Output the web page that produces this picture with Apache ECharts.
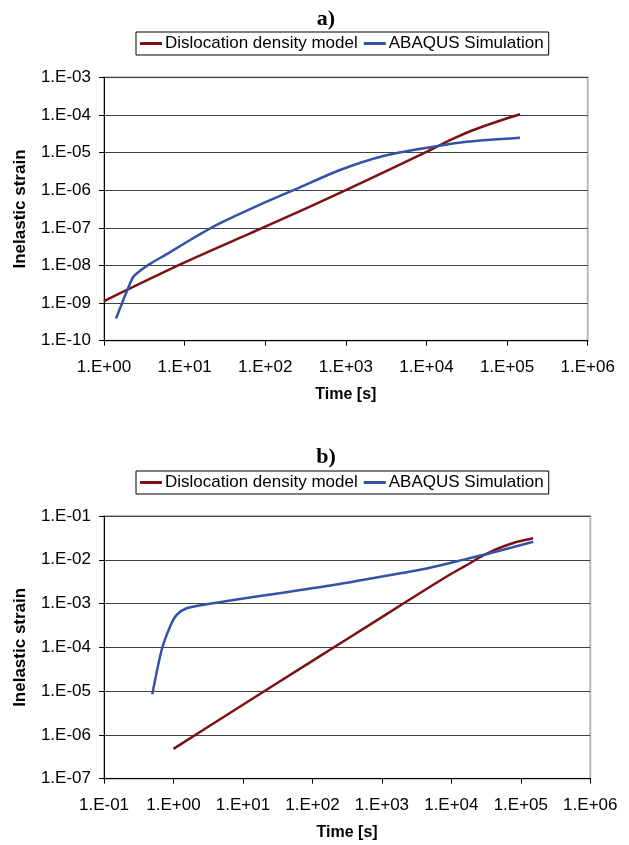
<!DOCTYPE html>
<html>
<head>
<meta charset="utf-8">
<script src="https://cdn.jsdelivr.net/npm/echarts@6/dist/echarts.min.js"></script>
<style>
html,body{margin:0;padding:0;background:#fff;}
#c{width:629px;height:845px;}
</style>
</head>
<body>
<div id="c"></div>
<script>
// ---- Data ----
var seriesNames = ['Dislocation density model', 'ABAQUS Simulation'];

// Chart a)
var aModelTime   = [1, 10, 100, 1000, 10000, 19600, 38200, 74500, 145000];
var aModelStrain = [1.13e-9, 1.2e-8, 1.07e-7, 1.0e-6, 1.05e-5, 2.15e-5, 3.98e-5, 6.6e-5, 1.04e-4];
var aSimTime     = [1.41, 1.91, 2.31, 2.8, 3.72, 6.0, 9.64, 25, 104, 270, 847, 2924, 12190, 31600, 145000];
var aSimStrain   = [3.9e-10, 2.0e-9, 5.0e-9, 7.2e-9, 1.1e-8, 2.0e-8, 3.7e-8, 1.19e-7, 4.94e-7, 1.19e-6, 3.44e-6, 8.1e-6, 1.43e-5, 1.94e-5, 2.48e-5];

// Chart b)
var bModelTime   = [1, 10, 100, 1000, 5000, 10000, 18000, 25000, 36000, 50000, 80000, 115000, 150000];
var bModelStrain = [4.8e-7, 4.9e-6, 4.9e-5, 4.9e-4, 2.45e-3, 4.8e-3, 8.1e-3, 1.12e-2, 1.5e-2, 1.88e-2, 2.45e-2, 2.82e-2, 3.1e-2];
var bSimTime     = [0.495, 0.676, 0.891, 1.11, 1.55, 3.0, 22, 200, 1824, 4930, 16600, 36000, 151000];
var bSimStrain   = [8.45e-6, 8.7e-5, 2.96e-4, 5.5e-4, 7.8e-4, 9.6e-4, 1.57e-3, 2.65e-3, 4.9e-3, 6.6e-3, 1.05e-2, 1.41e-2, 2.59e-2];

// Axis ranges
var aX = [1, 1e6], aY = [1e-10, 1e-3];
var bX = [0.1, 1e6], bY = [1e-7, 1e-1];

var titles = ['a)', 'b)'];
var xName = 'Time [s]';
var yName = 'Inelastic strain';

// ---- helpers ----
function pairs(xs, ys){ return xs.map(function(x,i){ return [x, ys[i]]; }); }
function sci(v){
  var e = Math.round(Math.log10(v));
  var a = Math.abs(e);
  return '1.E' + (e < 0 ? '-' : '+') + (a < 10 ? '0' : '') + a;
}
var FONT = 'Liberation Sans, Arial, sans-serif';
var RED = '#7d1015', BLUE = '#3352a8';

function xAx(idx, r){
  return {
    type:'log', logBase:10, gridIndex:idx, min:r[0], max:r[1],
    splitNumber: Math.round(Math.log10(r[1]/r[0])),
    name:xName, nameLocation:'middle', nameGap:46,
    nameTextStyle:{fontFamily:FONT, fontWeight:'bold', fontSize:16, color:'#000'},
    axisLine:{show:true, onZero:false, lineStyle:{color:'#000', width:1}},
    axisTick:{show:true, inside:false, length:5, lineStyle:{color:'#000'}},
    minorTick:{show:false},
    axisLabel:{formatter:sci, fontFamily:FONT, fontSize:17, color:'#000', margin:18, showMinLabel:true, showMaxLabel:true},
    splitLine:{show:false}
  };
}
function yAx(idx, r){
  return {
    type:'log', logBase:10, gridIndex:idx, min:r[0], max:r[1],
    splitNumber: Math.round(Math.log10(r[1]/r[0])),
    name:yName, nameLocation:'middle', nameGap:75, nameRotate:90,
    nameTextStyle:{fontFamily:FONT, fontWeight:'bold', fontSize:17, color:'#000'},
    axisLine:{show:true, onZero:false, lineStyle:{color:'#000', width:1}},
    axisTick:{show:true, inside:false, length:5, lineStyle:{color:'#000'}},
    axisLabel:{formatter:sci, fontFamily:FONT, fontSize:17, color:'#000', margin:13, showMinLabel:true, showMaxLabel:true},
    splitLine:{show:true, lineStyle:{color:'#404040', width:1}}
  };
}
function legendAt(top){
  return {
    data:seriesNames, left:136, top:top, orient:'horizontal',
    icon:'rect', itemWidth:22, itemHeight:3, itemGap:6,
    padding:[3,5,3,4], borderColor:'#000', borderWidth:1, backgroundColor:'#fff',
    textStyle:{fontFamily:FONT, fontSize:17, color:'#000', padding:[0,0,0,-2]},
    selectedMode:false
  };
}
function line(name, data, gi, color){
  return {
    type:'line', name:name, xAxisIndex:gi, yAxisIndex:gi,
    data:data, showSymbol:false, symbol:'none', smooth:0.25,
    lineStyle:{color:color, width:2.5}, itemStyle:{color:color},
    animation:false, z:3
  };
}

var chart = echarts.init(document.getElementById('c'), null, {renderer:'canvas'});
chart.setOption({
  backgroundColor:'#fff',
  animation:false,
  title:[
    {text:titles[0], left:321, top:3, textAlign:'center',
     textStyle:{fontFamily:'Liberation Serif, Times New Roman, serif', fontWeight:'bold', fontSize:22, color:'#000'}},
    {text:titles[1], left:321, top:441, textAlign:'center',
     textStyle:{fontFamily:'Liberation Serif, Times New Roman, serif', fontWeight:'bold', fontSize:22, color:'#000'}}
  ],
  legend:[ legendAt(32), legendAt(471) ],
  grid:[
    {left:104, top:77.3, right:41.3, height:263.4, show:true, borderColor:'#b8b8b8', borderWidth:2, backgroundColor:'transparent'},
    {left:104, top:516, right:38.7, height:262.7, show:true, borderColor:'#b8b8b8', borderWidth:2, backgroundColor:'transparent'}
  ],
  xAxis:[ xAx(0, aX), xAx(1, bX) ],
  yAxis:[ yAx(0, aY), yAx(1, bY) ],
  series:[
    line(seriesNames[0], pairs(aModelTime, aModelStrain), 0, RED),
    line(seriesNames[1], pairs(aSimTime, aSimStrain), 0, BLUE),
    line(seriesNames[0], pairs(bModelTime, bModelStrain), 1, RED),
    line(seriesNames[1], pairs(bSimTime, bSimStrain), 1, BLUE)
  ]
});
</script>
</body>
</html>
